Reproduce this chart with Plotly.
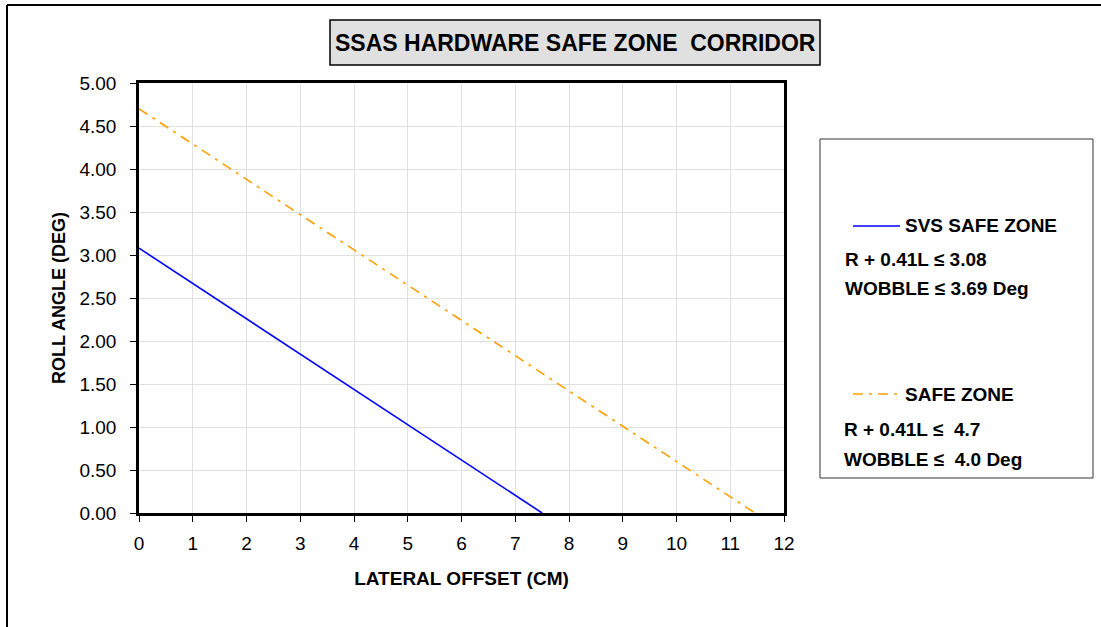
import plotly.graph_objects as go

# Data
svs_x = [0, 1, 2.2, 3.9, 5.9, 7.5]
svs_y = [3.08, 2.67, 2.18, 1.48, 0.66, 0.0]
safe_x = [0, 11.46]
safe_y = [4.7, 0.0]
x_ticks = list(range(0, 13))
y_ticks = [0, 0.5, 1.0, 1.5, 2.0, 2.5, 3.0, 3.5, 4.0, 4.5, 5.0]

W, H = 1101, 627
L, R, T, B = 139, 784, 83, 513

def px(x):
    return (x - L) / (R - L)

def py(y):
    return (B - y) / (B - T)

fig = go.Figure()
fig.add_trace(go.Scatter(x=svs_x, y=svs_y, mode="lines", name="SVS SAFE ZONE",
                         line=dict(color="#0000FF", width=1.6), showlegend=False))
fig.add_trace(go.Scatter(x=safe_x, y=safe_y, mode="lines", name="SAFE ZONE",
                         line=dict(color="#FFA000", width=1.6, dash="10px,6px,3px,6px"),
                         showlegend=False))

font = "Liberation Sans, Arial, sans-serif"
shapes = [
    # outer border (left and top)
    dict(type="line", xref="paper", yref="paper", x0=px(7), x1=px(7), y0=py(640), y1=py(5),
         line=dict(color="black", width=2)),
    dict(type="line", xref="paper", yref="paper", x0=px(7), x1=px(1101), y0=py(5), y1=py(5),
         line=dict(color="black", width=2)),
    # title box
    dict(type="rect", xref="paper", yref="paper", x0=px(330), x1=px(820), y0=py(65), y1=py(20),
         fillcolor="#E0E0E0", line=dict(color="black", width=1.5)),
    # legend box
    dict(type="rect", xref="paper", yref="paper", x0=px(820), x1=px(1093), y0=py(478), y1=py(139),
         fillcolor="white", line=dict(color="#333333", width=1)),
    dict(type="line", xref="paper", yref="paper", x0=px(853), x1=px(900), y0=py(226), y1=py(226),
         line=dict(color="#0000FF", width=1.6)),
    dict(type="line", xref="paper", yref="paper", x0=px(853), x1=px(900), y0=py(394), y1=py(394),
         line=dict(color="#FFA000", width=1.6, dash="10px,6px,3px,6px")),
]

def ann(text, x, y, size=19, xanchor="left"):
    return dict(text=text, xref="paper", yref="paper", x=px(x), y=py(y), showarrow=False,
                xanchor=xanchor, yanchor="middle",
                font=dict(family=font, size=size, color="black"))

annotations = [
    ann("<b>SSAS HARDWARE SAFE ZONE  CORRIDOR</b>", 575, 43, size=23, xanchor="center"),
    ann("<b>SVS SAFE ZONE</b>", 903, 226),
    ann("<b>R + 0.41L ≤ 3.08</b>", 843, 259),
    ann("<b>WOBBLE ≤ 3.69 Deg</b>", 843, 288),
    ann("<b>SAFE ZONE</b>", 903, 394),
    ann("<b>R + 0.41L ≤  4.7</b>", 842, 429),
    ann("<b>WOBBLE ≤  4.0 Deg</b>", 842, 459),
]

fig.update_layout(
    width=W, height=H,
    margin=dict(l=L, r=W - R, t=T, b=H - B, pad=0),
    paper_bgcolor="white", plot_bgcolor="white",
    shapes=shapes, annotations=annotations,
    font=dict(family=font, size=16, color="black"),
    xaxis=dict(range=[0, 12], tickvals=x_ticks, ticktext=[str(v) for v in x_ticks],
               showgrid=True, gridcolor="#E0E0E0", gridwidth=1,
               showline=True, linecolor="black", linewidth=2.5, mirror=True,
               ticks="outside", ticklen=6, tickcolor="black", zeroline=False,
               ticklabelstandoff=5,
               tickfont=dict(family="Liberation Sans Narrow, " + font, size=19),
               title=dict(text="<b>LATERAL OFFSET (CM)</b>", font=dict(size=19), standoff=20)),
    yaxis=dict(range=[0, 5], tickvals=y_ticks, ticktext=[f"{v:.2f}" for v in y_ticks],
               showgrid=True, gridcolor="#E0E0E0", gridwidth=1,
               showline=True, linecolor="black", linewidth=2.5, mirror=True,
               ticks="outside", ticklen=6, tickcolor="black", zeroline=False,
               ticklabelstandoff=10,
               tickfont=dict(size=19),
               title=dict(text="<b>ROLL ANGLE (DEG)</b>", font=dict(size=18), standoff=10)),
)

fig.write_html("out.html", config={"displayModeBar": False},
               post_script="document.body.style.margin='0';document.body.style.overflow='hidden';")
